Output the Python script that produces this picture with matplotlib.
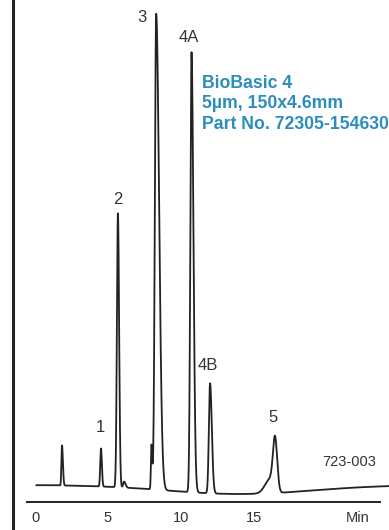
import numpy as np
import matplotlib
matplotlib.use("Agg")
import matplotlib.pyplot as plt

# peak table: retention time (min), height, left/right half-widths (min)
peak_times = [1.85, 4.52, 5.68, 6.10, 7.98, 8.30, 10.72, 11.99, 16.10, 16.44]
peak_heights = [40, 38, 274, 6, 44, 476, 440, 110, 14, 54]
sigma_left = [0.04, 0.05, 0.07, 0.06, 0.04, 0.09, 0.08, 0.08, 0.35, 0.14]
sigma_right = [0.06, 0.06, 0.08, 0.10, 0.05, 0.20, 0.13, 0.12, 0.20, 0.15]

# named peaks: label, retention time, label height
peak_labels = ["1", "2", "3", "4A", "4B", "5"]
label_times = [4.5, 5.7, 7.35, 10.55, 11.85, 16.3]
label_heights = [60, 288, 470, 450, 121, 69]

# slow baseline drift: offset, dip depth, dip centre, dip width
drift = (2.0, -9.0, 14.0, 5.0)

tick_values = [0, 5, 10, 15]

t = np.linspace(0.1, 26, 6000)
signal = drift[0] + drift[1] * np.exp(-(t - drift[2]) ** 2 / (2 * drift[3] ** 2))
for t0, h, sl, sr in zip(peak_times, peak_heights, sigma_left, sigma_right):
    s = np.where(t < t0, sl, sr)
    signal += h * np.exp(-(t - t0) ** 2 / (2 * s ** 2))

fig = plt.figure(figsize=(3.89, 5.30), dpi=100)
ax = fig.add_axes([0, 0, 1, 1])
ax.set_xlim(-35 / 14.6, 354 / 14.6)
ax.set_ylim(-43, 487)
ax.axis("off")

ax.plot(t, signal, color="#222222", lw=1.3)

# axes lines
ax.axvline(-1.5, color="#222222", lw=2.2)
ax.plot([-0.55, 23.6], [-15, -15], color="#222222", lw=1.4)

label_font = dict(family="Liberation Sans", color="#333333")
for v in tick_values:
    ax.text(v, -31, str(v), ha="center", va="center", fontsize=10.5, **label_font)
ax.text(22.1, -31, "Min", ha="center", va="center", fontsize=10.5, **label_font)

for lab, x, y in zip(peak_labels, label_times, label_heights):
    ax.text(x, y, lab, ha="center", va="center", fontsize=12, **label_font)
ax.text(21.54, 25, "723-003", ha="center", va="center", fontsize=10.5, **label_font)

ax.text(11.45, 383, "BioBasic 4\n5\u00b5m, 150x4.6mm\nPart No. 72305-154630",
        ha="left", va="center", fontsize=12.7, fontweight="bold",
        color="#2b8cbe", family="Liberation Sans", linespacing=1.28)

fig.savefig("out.png", dpi=100)
